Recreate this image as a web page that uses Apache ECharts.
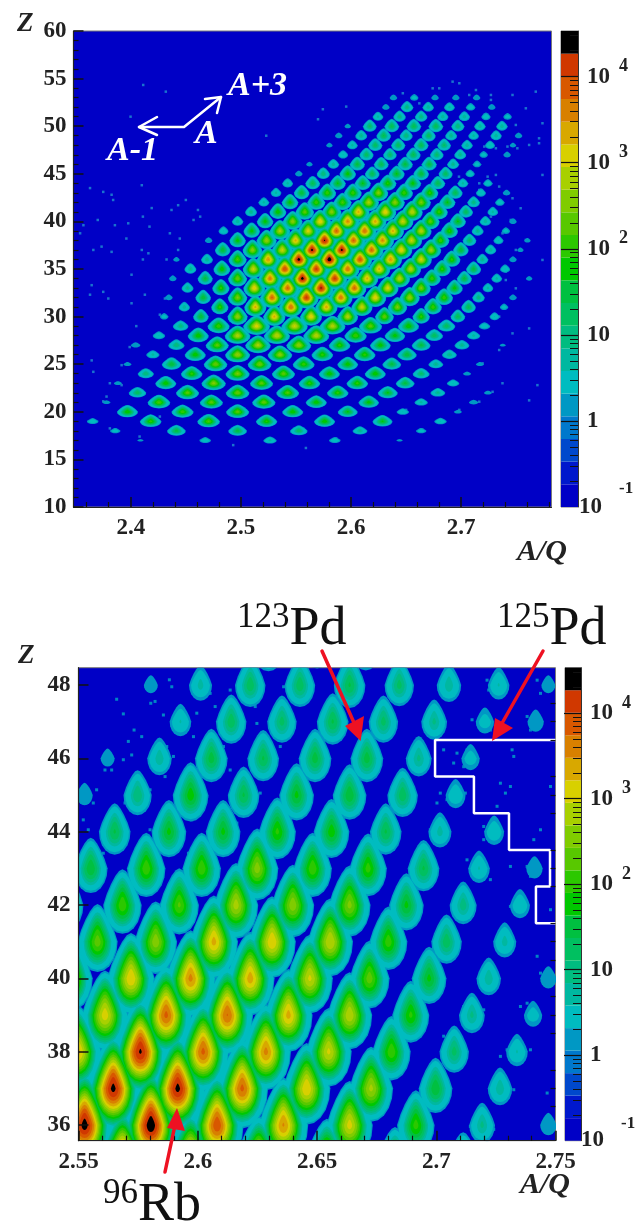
<!DOCTYPE html>
<html><head><meta charset="utf-8">
<style>html,body{margin:0;padding:0;background:#fff}#c{width:636px;height:1228px}</style>
<script src="https://cdn.jsdelivr.net/npm/echarts@6/dist/echarts.min.js"></script></head>
<body><div id="c"></div>
<script>
// peak heights (log10 counts) along each Z row: first mass number, then values for A, A+1, ...
const z17=[41,[0.1,0.5,0.7,0.5,0.1]];
const z18=[43,[0.4,1.5,1.5,1.3,0.9,0.4]];
const z19=[45,[0.5,2.0,2.2,1.95,1.9,1.7,0.6]];
const z20=[48,[1.9,2.1,2.3,1.9,1.7,0.6,0.2]];
const z21=[50,[0.2,2.2,2.3,2.35,1.9,1.8,0.7,0.3]];
const z22=[53,[1.3,2.3,2.4,2.25,2.0,1.7,0.9,0.2]];
const z23=[55,[0.2,1.9,2.55,2.3,2.0,2.0,1.5,0.6]];
const z24=[58,[1.1,2.0,2.5,2.3,1.9,1.9,1.2,0.2]];
const z25=[60,[0.2,1.6,2.4,2.45,2.05,1.85,1.5,0.9,0.2]];
const z26=[63,[0.7,1.9,2.7,2.6,2.0,2.0,1.6,0.9]];
const z27=[65,[0.3,1.1,2.3,2.8,2.65,2.0,1.85,1.5,0.9,0.1]];
const z28=[68,[0.6,1.9,2.85,2.95,2.9,2.15,1.8,1.3,0.7]];
const z29=[71,[1.0,2.1,3.1,3.0,2.85,2.3,1.9,1.3,0.5]];
const z30=[73,[0.4,1.6,2.7,3.3,3.2,2.85,2.35,2.0,1.4,0.6]];
const z31=[76,[0.8,2.0,3.3,3.75,3.35,3.0,2.5,2.1,1.4,0.4]];
const z32=[78,[0.3,1.6,2.5,3.8,4.1,3.7,3.2,2.7,2.1,1.0,0.3]];
const z33=[81,[0.9,2.0,3.2,3.8,4.3,3.8,3.1,2.5,1.8,0.7]];
const z34=[83,[0.3,1.5,2.4,3.65,4.4,4.1,3.3,2.9,2.1,1.5,0.7,0.2]];
const z35=[86,[0.9,1.9,3.0,4.0,4.1,3.75,3.3,2.9,2.0,1.5,0.6]];
const z36=[88,[0.2,0.9,2.2,3.5,4.4,4.5,3.95,3.5,3.05,2.0,0.9,0.3]];
const z37=[92,[1.6,2.6,3.0,4.35,4.35,3.8,3.2,2.75,1.6,0.8,0.2]];
const z38=[94,[0.3,1.8,2.7,3.3,4.3,3.8,3.55,3.0,2.1,1.2,0.6,0.2]];
const z39=[97,[0.6,1.8,2.8,3.1,3.8,3.75,3.3,2.9,1.95,0.9,0.4]];
const z40=[100,[0.8,1.8,2.6,3.2,3.55,3.35,3.0,2.3,1.7,0.8,0.3]];
const z41=[103,[0.9,1.9,2.3,2.6,3.3,3.2,2.95,2.05,1.3,0.7]];
const z42=[106,[0.7,1.8,2.1,2.2,2.8,2.6,2.5,1.7,1.0,0.5]];
const z43=[109,[0.7,1.6,2.1,2.1,2.55,2.1,2.0,1.4,0.6,0.3]];
const z44=[112,[0.7,1.4,1.7,1.7,1.95,1.8,1.4,0.7,0.5]];
const z45=[115,[0.3,1.1,1.8,1.4,1.7,1.6,1.3,0.5]];
const z46=[118,[0.2,0.8,1.5,1.4,1.5,1.5,0.9,0.4]];
const z47=[122,[0.6,1.3,1.2,1.4,1.2,0.9,0.4,0.3]];
const z48=[124,[0.2,0.7,1.3,1.3,1.4,1.2,0.8,0.6,0.2]];
const z49=[127,[0.3,0.9,1.4,1.1,1.3,0.9,0.7,0.8,0.3]];
const z50=[130,[0.2,1.2,1.4,1.4,1.4,1.1,0.8,0.8]];
const z51=[134,[0.7,1.0,1.0,0.8,0.8,0.5,0.4]];
const z52=[137,[0.3,1.0,0.8,0.7,0.5,0.3]];
const z53=[140,[0.3,0.4,0.3,0.3,0.3]];
const rows={17:z17,18:z18,19:z19,20:z20,21:z21,22:z22,23:z23,24:z24,25:z25,26:z26,27:z27,28:z28,29:z29,30:z30,31:z31,32:z32,33:z33,34:z34,35:z35,36:z36,37:z37,38:z38,39:z39,40:z40,41:z41,42:z42,43:z43,44:z44,45:z45,46:z46,47:z47,48:z48,49:z49,50:z50,51:z51,52:z52,53:z53};

// isolated single counts [A/Q, Z]
const topSpeckle=[[2.4318,53.63],[2.4113,54.33],[2.3998,51],[2.523,49],[2.375,43.1],[2.363,43.5],[2.41,43.8],[2.3826,42.8],[2.384,42.25],[2.45,42.25],[2.443,41.7],[2.437,41.2],[2.419,41.4],[2.461,41.2],[2.37,40.15],[2.357,39.6],[2.3856,39.6],[2.3977,39.8],[2.411,40.5],[2.457,40.15],[2.463,40.5],[2.417,39.45],[2.4355,38.75],[2.396,38.2],[2.354,38.75],[2.366,37],[2.3735,37.35],[2.3826,36.8],[2.41,37],[2.416,36.65],[2.443,37],[2.4445,38.2],[2.4325,36],[2.411,36],
[2.3645,33.3],[2.375,32.6],[2.363,32.3],[2.3796,31.9],[2.4007,34.4],[2.4007,31.4],[2.4128,32.3],[2.4264,30.2],[2.405,29],[2.431,31.9],[2.399,26.8],[2.417,26],[2.3917,24.9],[2.3645,25.4],[2.366,24.2],[2.4128,24],[2.381,23],[2.3917,22.8],[2.375,21.1],[2.378,21.6],[2.405,22.1],[2.381,18.26],[2.408,17.4],[2.4264,19.5],[2.4657,17],[2.493,16.5],[2.526,17],[2.559,16.2],[2.4234,27.9],
[2.6922,54.68],[2.6983,54.51],[2.6741,53.98],[2.6801,53.98],[2.7134,53.8],[2.727,53.28],[2.7466,53.28],[2.7677,53.63],[2.7587,51.88],[2.7738,50.31],[2.7496,50.13],[2.7707,48.21],[2.742,47.86],[2.751,47.68],[2.7315,47.68],[2.721,47.86],[2.7707,48.73],[2.7315,44.88],[2.724,44.7],[2.7164,43.3],[2.7466,42.43],[2.754,41.38],[2.745,40.15],[2.727,40.5],[2.7738,44.88],[2.5744,51.78],[2.57,50.73],[2.5956,52.06],[2.647,53.46],[2.662,52.4],[2.7073,53.28],[2.727,52.76],[2.7617,48.03],[2.7345,43.66],[2.698,44.7],[2.7164,44],[2.7405,34.73],[2.7496,37],[2.7587,38.05],[2.7738,35.95],[2.7375,38.75],
[2.7405,33.84],[2.7496,32.97],[2.7255,32.97],[2.7345,30],[2.7466,28.24],[2.7345,26.49],[2.7194,25.09],[2.7375,23],[2.7692,22.8],[2.7617,28.76],[2.7164,21.06],[2.7285,22.1],[2.6983,20.2],[2.6832,18.96],[2.65,20.2],[2.5865,17.2],[2.665,18.1],[2.7617,21.2]];
const bottomSpeckle=[[2.566,47.61],[2.5688,47.21],[2.5733,46.77],[2.5803,47.5],[2.5821,47.55],[2.5709,46.46],[2.5723,46.09],[2.5611,45.68],[2.5639,45.68],[2.5765,46.59],[2.5688,45.96],[2.5891,47.95],[2.5856,47.18],[2.5881,48.14],[2.6052,47.77],[2.6073,47.41],[2.6136,47.86],[2.6241,47.41],[2.636,47.95],[2.587,46.32],[2.5863,45.5],[2.5898,46.05],[2.5982,46.59],[2.5996,47.23],[2.6108,46.32],[2.6136,45.68],[2.6248,46.95],[2.6304,47.09],[2.6346,46.32],[2.6437,47.5],[2.6318,45.87],[2.5576,45.14],[2.5562,44.78],[2.5527,44.78],[2.5541,44.05],[2.552,44.32],[2.5604,43.41],[2.5695,44.78],[2.58,45.14],[2.58,44.05],[2.6038,44.96],[2.5975,44.32],[2.608,45.5],[2.6262,45.05],[2.629,43.6],[2.6472,46.41],[2.5961,43.41],[2.6164,44.23],
[2.7087,46.14],[2.7129,46.23],[2.7157,45.87],[2.7031,46.23],[2.7073,45.87],[2.7115,45.77],[2.7017,45.05],[2.7101,45.09],[2.7045,44.87],[2.7003,44.78],[2.7122,45.05],[2.7024,44.23],[2.7045,43.87],[2.6975,44.05],[2.7199,44.14],[2.7241,44.05],[2.7199,43.78],[2.7255,44.69],[2.7311,45.23],[2.729,45.05],[2.7437,44.05],[2.7381,43.05],[2.7395,42.78],[2.7129,43.23],[2.7199,43.05],[2.715,42.87],[2.7227,42.69],[2.7381,47.14],[2.7395,46.77],[2.7423,48.13],[2.7437,47.77],[2.7213,48.13],[2.722,47.86],[2.7269,48.13],[2.715,47.05],[2.7213,47.05],[2.7227,46.77],[2.7318,46.23],[2.7325,46.05],[2.7269,45.32],[2.7479,45.23],[2.7409,43.78],[2.7311,43.05],
[2.7269,41.23],[2.7318,41.05],[2.7255,40.87],[2.7437,40.14],[2.7465,40.23],[2.7451,39.96],[2.7185,40.14],[2.7241,40.05],[2.7199,39.78],[2.7381,39.32],[2.7423,39.1],[2.7353,39.23],[2.7115,39.23],[2.7199,39.14],[2.7157,38.87],[2.7339,38.33],[2.7395,38.05],[2.7297,38.05],[2.7269,37.87],[2.7367,37.87],[2.7227,37.06],[2.7283,37.06],[2.7325,36.96],[2.7241,36.78],[2.7185,36.24],[2.7143,35.96],[2.7241,35.88],[2.7479,36.15],[2.7465,36.87],[2.7031,38.42],[2.7003,41.05],[2.7479,41.87],[2.7423,40.6],[2.7311,41.96],[2.7129,42.05],[2.7213,35.6]];

// gate drawn on the lower panel
const gateAQ=[2.75,2.6995,2.6995,2.7158,2.7158,2.7305,2.7305,2.7477,2.7477,2.7418,2.7418,2.75];
const gateZ=[46.5,46.5,45.5,45.5,44.5,44.5,43.5,43.5,42.5,42.5,41.5,41.5];

// axes
const topXTicks=[2.4,2.5,2.6,2.7];
const topXMinor=[2.36,2.38,2.42,2.44,2.46,2.48,2.52,2.54,2.56,2.58,2.62,2.64,2.66,2.68,2.72,2.74,2.76,2.78];
const botXTicks=[2.55,2.6,2.65,2.7,2.75];
const botXMinor=[2.56,2.57,2.58,2.59,2.61,2.62,2.63,2.64,2.66,2.67,2.68,2.69,2.71,2.72,2.73,2.74];
const botYTicks=[36,38,40,42,44,46,48];
const botYMinor=[36.5,37,37.5,38.5,39,39.5,40.5,41,41.5,42.5,43,43.5,44.5,45,45.5,46.5,47,47.5,48.5];
const cbarExponents=[0,1,2,3,4];
const cbarMinorCounts=[0.2,0.3,0.4,0.5,0.6,0.7,0.8,0.9,2,3,4,5,6,7,8,9,20,30,40,50,60,70,80,90,200,300,400,500,600,700,800,900,2000,3000,4000,5000,6000,7000,8000,9000,20000,30000];
// 21 colour bands, lowest first
const bandColors=['#0000c6','#0018cc','#0048cc','#0078cc','#0098c4','#00bcc0','#00b8a0','#00bc80','#00c060','#00c040','#00c800','#2cc800','#58c800','#80cc00','#a8d000','#d8d000','#d8a800','#d88000','#d85800','#d03800','#000000'];
const cbarMin=-1,cbarMax=4.53;
const bandEdge=i=>cbarMin+i*(cbarMax-cbarMin)/bandColors.length;

const peaks=[];
Object.keys(rows).forEach(z=>{const r=rows[z];r[1].forEach((p,i)=>peaks.push({z:+z,a:r[0]+i,p:p}));});
const aqCal=-0.003;

function levelSeries(xi,yi,lvl,name){
  const e=bandEdge(lvl);
  const skirt=lvl<=5;
  const data=peaks.filter(k=>k.p>e).map(k=>[k.a/k.z+aqCal,k.z,k.p-e]);
  return {type:'custom',name:name+lvl,xAxisIndex:xi,yAxisIndex:yi,coordinateSystem:'cartesian2d',clip:true,silent:true,animation:false,z:3,
    encode:{x:0,y:1},data:data,
    renderItem:function(params,api){
      const x=api.value(0),z=api.value(1),d=api.value(2);
      const zk=z<32?0.78+0.22*Math.max(0,z-20)/12:1;
      const rx=(0.0042*Math.pow(d,0.6)+(skirt?0.0016:0))*(z<30?1.25:1);
      const ru=(0.58*Math.pow(d,0.6)+(skirt?0.08:0))*zk, rd=(0.46*Math.pow(d,0.6)+(skirt?0.08:0))*zk;
      const pts=[];
      for(let i=0;i<20;i++){
        const t=i/20*2*Math.PI,s=Math.sin(t),c=Math.cos(t);
        const dx=rx*c*(s>0?1-0.45*s:1),dy=s>0?ru*s:rd*s;
        pts.push(api.coord([x+dx,z+dy]));
      }
      return {type:'polygon',shape:{points:pts},style:{fill:bandColors[lvl]}};
    }};
}
function bandSeries(xi,yi){
  const data=bandColors.map((c,i)=>[i,bandEdge(i),bandEdge(i+1)]);
  return {type:'custom',xAxisIndex:xi,yAxisIndex:yi,silent:true,animation:false,z:1,data:data,
    renderItem:function(p,api){
      const a=api.coord([0,api.value(1)]),b=api.coord([1,api.value(2)]);
      return {type:'rect',shape:{x:a[0],y:b[1],width:b[0]-a[0],height:a[1]-b[1]},style:{fill:bandColors[api.value(0)]}};
    }};
}
const serif='Liberation Serif';
const tickLab={fontFamily:serif,fontWeight:'bold',fontSize:23,color:'#222'};
const line={show:true,onZero:false,lineStyle:{color:'#222',width:1.2}};
function mainX(grid,min,max,ticks,lab){return {gridIndex:grid,type:'value',min:min,max:max,position:'bottom',z:6,axisLine:line,splitLine:{show:false},
  axisTick:{show:true,inside:true,length:10,lineStyle:{color:'#111',width:1.5},customValues:ticks},
  axisLabel:Object.assign({show:true,margin:10,customValues:ticks,formatter:lab},tickLab)};}
function minorX(grid,min,max,ticks){return {gridIndex:grid,type:'value',min:min,max:max,position:'bottom',z:6,axisLine:{show:false,onZero:false},splitLine:{show:false},
  axisTick:{show:true,inside:true,length:5,lineStyle:{color:'#111',width:1.2},customValues:ticks},axisLabel:{show:false}};}
function cbarX(grid){return {gridIndex:grid,type:'value',min:0,max:1,show:false};}
function cbarMajor(grid){return {gridIndex:grid,type:'value',min:cbarMin,max:cbarMax,position:'right',z:6,axisLine:{show:true,onZero:false,lineStyle:{color:'#333',width:1}},splitLine:{show:false},
  axisTick:{show:true,inside:true,length:17,lineStyle:{color:'#111',width:1.2},customValues:cbarExponents},
  axisLabel:{show:true,margin:9,customValues:cbarExponents,align:'left',
    formatter:v=>v===0?'{b|1}':v===1?'{b|10}':'{b|10}{s|'+v+'}',
    rich:{b:{fontFamily:serif,fontWeight:'bold',fontSize:23,color:'#222'},s:{fontFamily:serif,fontWeight:'bold',fontSize:18,color:'#222',padding:[0,0,20,9]}}}};}
function cbarMinor(grid){return {gridIndex:grid,type:'value',min:cbarMin,max:cbarMax,position:'right',z:6,axisLine:{show:false,onZero:false},splitLine:{show:false},
  axisTick:{show:true,inside:true,length:8,lineStyle:{color:'#111',width:1},customValues:cbarMinorCounts.map(Math.log10)},axisLabel:{show:false}};}

const frame={show:true,backgroundColor:'#0000c6',borderColor:'#7a7a7a',borderWidth:1};
const series=[];
for(let l=4;l<bandColors.length;l++){series.push(levelSeries(0,0,l,'t'));}
for(let l=4;l<bandColors.length;l++){series.push(levelSeries(2,1,l,'b'));}
series.push({type:'scatter',xAxisIndex:0,yAxisIndex:0,data:topSpeckle,symbol:'rect',symbolSize:2.5,silent:true,animation:false,z:2,itemStyle:{color:'#1f90d0'}});
series.push({type:'scatter',xAxisIndex:2,yAxisIndex:1,data:bottomSpeckle,symbol:'rect',symbolSize:3,silent:true,animation:false,z:2,clip:true,itemStyle:{color:'#00a8c4'}});
series.push({type:'line',xAxisIndex:2,yAxisIndex:1,data:gateAQ.map((a,i)=>[a,gateZ[i]]),symbol:'none',silent:true,animation:false,z:5,lineStyle:{color:'#fff',width:2.5}});
series.push(bandSeries(4,3));
series.push(bandSeries(5,5));

function txt(x,y,text,size,opt){return {type:'text',z:20,silent:true,style:Object.assign({x:x,y:y,text:text,fontFamily:serif,fontSize:size,fontWeight:'bold',fill:'#222',textAlign:'left',textVerticalAlign:'middle'},opt||{})};}
function poly(points,color,w){return {type:'polyline',z:20,silent:true,shape:{points:points},style:{stroke:color,lineWidth:w,fill:null,lineCap:'round',lineJoin:'round'}};}
function head(p,color){return {type:'polygon',z:20,silent:true,shape:{points:p},style:{fill:color}};}
function iso(x,y,num,sym){return {type:'text',z:20,silent:true,style:{x:x,y:y,text:'{s|'+num+'}{b|'+sym+'}',textAlign:'left',textVerticalAlign:'middle',
  rich:{s:{fontFamily:serif,fontSize:35,fill:'#111',color:'#111',padding:[0,0,24,0]},b:{fontFamily:serif,fontSize:54,fill:'#111',color:'#111'}}}};}
const red='#ee1122';
const graphic=[
 txt(17,24,'Z',27,{fontStyle:'italic'}),
 txt(18,656,'Z',27,{fontStyle:'italic'}),
 txt(517,552,'A/Q',30,{fontStyle:'italic'}),
 txt(520,1185,'A/Q',30,{fontStyle:'italic'}),
 txt(579,507,'10',23),txt(619,489,'-1',17),
 txt(581,1140,'10',23),txt(621,1124,'-1',17),
 txt(228,86,'A+3',34,{fontStyle:'italic',fill:'#fff'}),
 txt(195,134,'A',34,{fontStyle:'italic',fill:'#fff'}),
 txt(107,151,'A-1',34,{fontStyle:'italic',fill:'#fff'}),
 poly([[221,97],[184,127],[139,127]],'#fff',2.5),
 poly([[205,99],[221,97],[217,113]],'#fff',2.5),
 poly([[157,117],[139,127],[157,135]],'#fff',2.5),
 iso(237,630,'123','Pd'),iso(497,630,'125','Pd'),iso(103,1206,'96','Rb'),
 poly([[322,651],[355,725]],red,3.5),head([[360.7,741],[345,726],[364,716]],red),
 poly([[543,651],[501,725]],red,3.5),head([[492,741],[495,718],[513,728]],red),
 poly([[165,1172],[175,1125]],red,3.5),head([[177,1108],[167,1128],[185,1131]],red)
];

const opt={
 backgroundColor:'#fff',animation:false,
 grid:[
  Object.assign({left:73.5,top:31,width:478,height:476},frame),
  Object.assign({left:78.5,top:667.7,width:477,height:473},frame),
  {left:561,top:31,width:17,height:476,show:true,borderColor:'#777',borderWidth:1},
  {left:565,top:667.7,width:16,height:473,show:true,borderColor:'#777',borderWidth:1}
 ],
 xAxis:[
  mainX(0,2.348,2.782,topXTicks,v=>v.toFixed(1)),
  minorX(0,2.348,2.782,topXMinor),
  mainX(1,2.55,2.75,botXTicks,v=>String(+v.toFixed(2))),
  minorX(1,2.55,2.75,botXMinor),
  cbarX(2),cbarX(3)
 ],
 yAxis:[
  {gridIndex:0,type:'value',min:10,max:60,interval:5,z:6,axisLine:line,splitLine:{show:false},
   axisTick:{show:true,inside:true,length:10,lineStyle:{color:'#111',width:1.5}},
   minorTick:{show:true,splitNumber:5,length:5,lineStyle:{color:'#111',width:1.2}},
   axisLabel:Object.assign({margin:7,formatter:v=>String(v)},tickLab)},
  {gridIndex:1,type:'value',min:35.57,max:48.47,z:6,axisLine:line,splitLine:{show:false},
   axisTick:{show:true,inside:true,length:10,lineStyle:{color:'#111',width:1.5},customValues:botYTicks},
   axisLabel:Object.assign({margin:8,customValues:botYTicks,formatter:v=>String(v)},tickLab)},
  {gridIndex:1,type:'value',min:35.57,max:48.47,z:6,axisLine:{show:false,onZero:false},splitLine:{show:false},
   axisTick:{show:true,inside:true,length:5,lineStyle:{color:'#111',width:1.2},customValues:botYMinor},axisLabel:{show:false}},
  cbarMajor(2),cbarMinor(2),cbarMajor(3),cbarMinor(3)
 ],
 series:series,graphic:graphic
};
const chart=echarts.init(document.getElementById('c'),null,{renderer:'canvas',width:636,height:1228});
chart.setOption(opt);
</script></body></html>
